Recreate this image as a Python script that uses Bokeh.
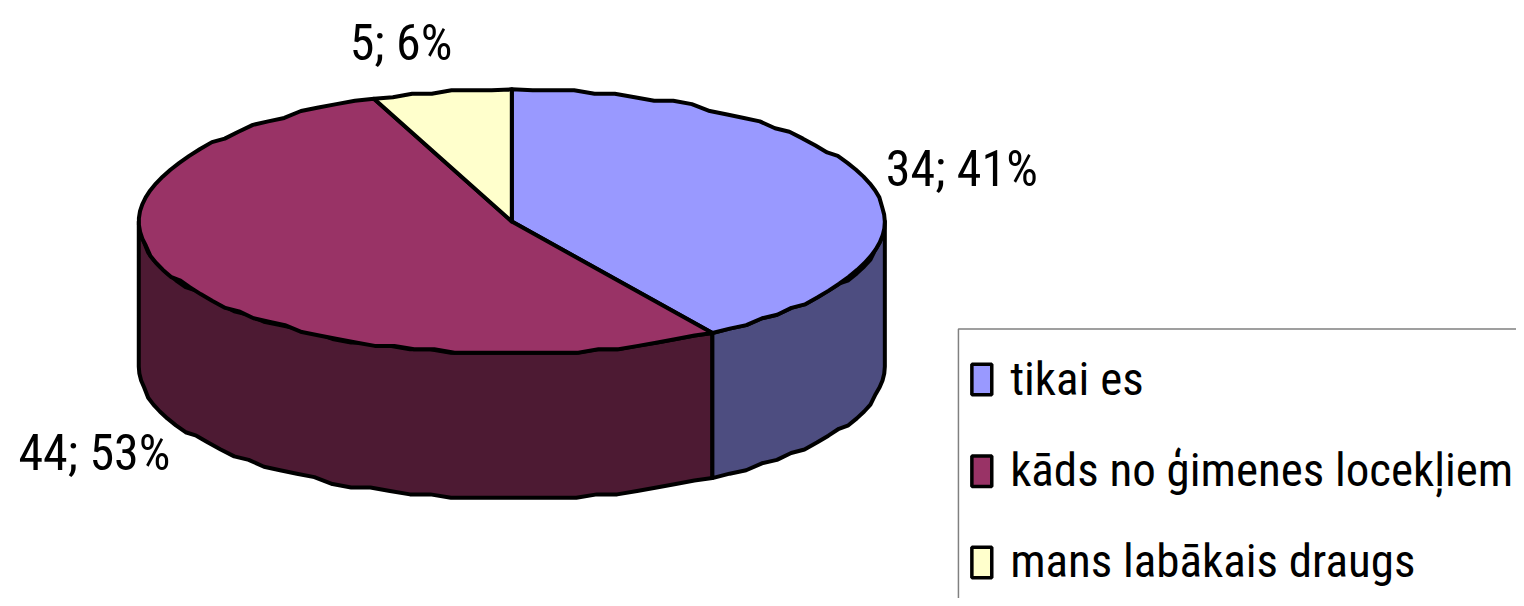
import numpy as np
from bokeh.plotting import figure
from bokeh.models import Range1d
from bokeh.core.properties import value
from bokeh.embed import file_html
from bokeh.resources import INLINE

categories = ["tikai es", "kāds no ģimenes locekļiem", "mans labākais draugs"]
values = [34, 44, 5]
data_labels = ["34; 41%", "44; 53%", "5; 6%"]
top_colors = ["#9999FF", "#993366", "#FFFFCC"]
side_colors = ["#4D4D80", "#4D1A33", "#808066"]

FONT = "Roboto Condensed"
CX, CY, RX, RY, DEPTH = 514.0, 224.0, 375.0, 134.0, 147.0
W, H = 1524, 606

p = figure(width=W - 8, height=H - 8, output_backend="svg", toolbar_location=None,
           x_range=Range1d(0, W), y_range=Range1d(H, 0), min_border=0,
           outline_line_color=None)
p.axis.visible = False
p.grid.visible = False


def arc(a0, a1, dy=0.0, step=3.2):
    """Faceted elliptical arc from angle a0 to a1 (degrees clockwise from top)."""
    n = max(2, int(round(abs(a1 - a0) / step)))
    t = np.radians(np.linspace(a0, a1, n + 1))
    x = CX + RX * np.sin(t)
    y = CY - RY * np.cos(t)
    y[1:-1] = np.round(y[1:-1] / 3.5) * 3.5
    return x, y + dy


fr = np.array(values, dtype=float) / sum(values)
edges = np.concatenate([[0], np.cumsum(fr) * 360])

LW = 4
for i in [1, 0]:
    a0, a1 = max(edges[i], 90), min(edges[i + 1], 270)
    if a1 <= a0:
        continue
    xt, yt = arc(a0, a1)
    xb, yb = arc(a1, a0, DEPTH)
    p.patch(np.r_[xt, xb], np.r_[yt, yb], fill_color=side_colors[i],
            line_color="black", line_width=LW, line_join="round")

for i in range(len(values)):
    xt, yt = arc(edges[i], edges[i + 1])
    p.patch(np.r_[CX, xt], np.r_[CY, yt], fill_color=top_colors[i],
            line_color="black", line_width=LW, line_join="round")

lab_x = [890, 18, 351]
lab_y = [187, 475, 59]
p.text(lab_x, lab_y, text=data_labels, text_font=value(FONT), text_font_size="50px",
       text_baseline="alphabetic", text_align="left", text_color="black",
       y_offset=-16)

p.quad(left=[963], right=[1540], top=[333], bottom=[625], fill_color="white",
       line_color="#808080", line_width=1.5)
sw_y = [384, 477, 569.5]
p.rect([986.5] * 3, sw_y, width=20, height=31, fill_color=top_colors,
       line_color="black", line_width=3.5)
leg_y = [398, 490, 583]
p.text([1015] * 3, leg_y, text=categories, text_font=value(FONT), text_font_size="47px",
       text_baseline="alphabetic", text_align="left", text_color="black",
       y_offset=-15)

open("out.html", "w").write(file_html(p, INLINE))
